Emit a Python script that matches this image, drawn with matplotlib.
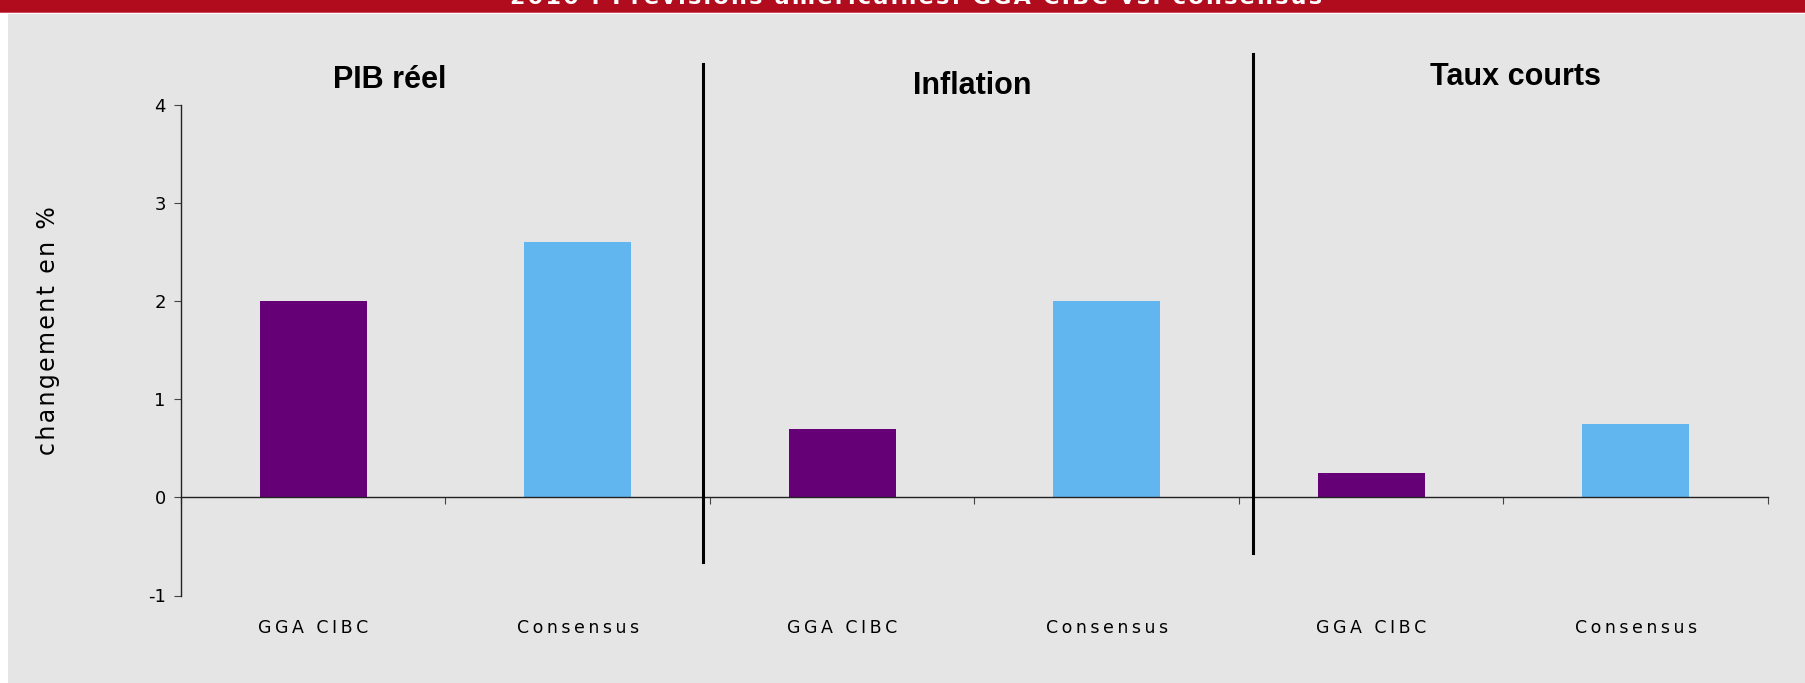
import matplotlib
matplotlib.use("Agg")
import matplotlib.pyplot as plt
from matplotlib.patches import Rectangle
from matplotlib.lines import Line2D
import numpy as np

# ---- data ----
groups = ["PIB réel", "Inflation", "Taux courts"]
series = ["GGA CIBC", "Consensus"]
gga_cibc = [2.0, 0.7, 0.25]
consensus = [2.6, 2.0, 0.75]
yticks = [-1, 0, 1, 2, 3, 4]
title = "2010 : Prévisions américaines: GGA CIBC vs. consensus"
ylabel = "changement en %"

PURPLE = "#660077"
BLUE = "#62B6EF"
GRAY = "#E5E5E5"
RED = "#B00C1E"

def spaced(s, sep="\u2009"):
    return sep.join(list(s))

W, H = 1806, 683
fig = plt.figure(figsize=(W / 100, H / 100), dpi=100)
fig.patch.set_facecolor("white")

# gray panel background + red header bar
fig.add_artist(Rectangle((8 / W, 0), 1, 1 - 14 / H, transform=fig.transFigure,
                         facecolor=GRAY, edgecolor="none", zorder=0))
fig.add_artist(Rectangle((0, 1 - 11.5 / H), 1, 11.5 / H, transform=fig.transFigure,
                         facecolor=RED, edgecolor="none", zorder=0))
fig.add_artist(Rectangle((0, 1 - 12.8 / H), 1, 1.3 / H, transform=fig.transFigure,
                         facecolor="#C9505C", edgecolor="none", zorder=0))
fig.text(0.507, 1 - 4.5 / H, spaced(title, "\u200a"), color="white", fontsize=16,
         fontweight="bold", ha="center", va="baseline",
         family=["DejaVu Sans"])

ax = fig.add_axes([181 / W, 1 - 595.5 / H, (1768 - 181) / W, (595.5 - 104.8) / H])
ax.set_facecolor("none")
ax.patch.set_visible(False)

n = len(groups) * len(series)
x_all = np.arange(n)
bar_w = 0.405
for j, (vals, col) in enumerate([(gga_cibc, PURPLE), (consensus, BLUE)]):
    xs = np.arange(len(groups)) * len(series) + j
    ax.bar(xs, vals, width=bar_w, color=col, zorder=2)

ax.set_xlim(-0.5, n - 0.5)
ax.set_ylim(-1, 4)

# spines
for s in ["top", "right"]:
    ax.spines[s].set_visible(False)
ax.spines["left"].set_linewidth(1.0)
ax.spines["left"].set_color("#222222")
ax.spines["bottom"].set_position(("data", 0))
ax.spines["bottom"].set_linewidth(1.0)
ax.spines["bottom"].set_color("#222222")

# x ticks on zero line at category boundaries, no labels
ax.set_xticks(np.arange(n + 1) - 0.5)
ax.set_xticklabels([])
ax.tick_params(axis="x", direction="out", length=5, width=0.8, color="#444444")

ax.set_yticks(yticks)
ax.set_yticklabels([str(v) for v in yticks])
ax.tick_params(axis="y", direction="out", length=5, width=0.8, color="#444444",
               labelsize=13, pad=6)
for lab in ax.get_yticklabels():
    lab.set_family("DejaVu Sans")

# category labels along the bottom
labels = series * len(groups)
for xv, lab in zip(x_all, labels):
    ax.text(xv, -0.066, spaced(lab), transform=ax.get_xaxis_transform(),
            fontsize=12.5, family=["DejaVu Sans"], ha="center", va="center")

ax.set_ylabel(spaced(ylabel, "\u200a"), fontsize=17, family=["DejaVu Sans"])
ax.yaxis.set_label_coords(-0.076, 0.54)

# group titles
title_pos = [(0.29, 4.25), (2.49, 4.19), (4.546, 4.28)]
for g, (tx, ty) in zip(groups, title_pos):
    ax.text(tx, ty, g, fontsize=22, fontweight="bold", ha="center", va="center",
            family=["Liberation Sans Narrow", "Liberation Sans", "DejaVu Sans"])

# separators
for (sx, y0, y1) in [(1.472, -0.657, 4.42), (3.554, -0.563, 4.516)]:
    ax.add_line(Line2D([sx, sx], [y0, y1], color="black", linewidth=2.2,
                       clip_on=False, zorder=3))

fig.savefig("out.png", dpi=100, facecolor=fig.get_facecolor())
